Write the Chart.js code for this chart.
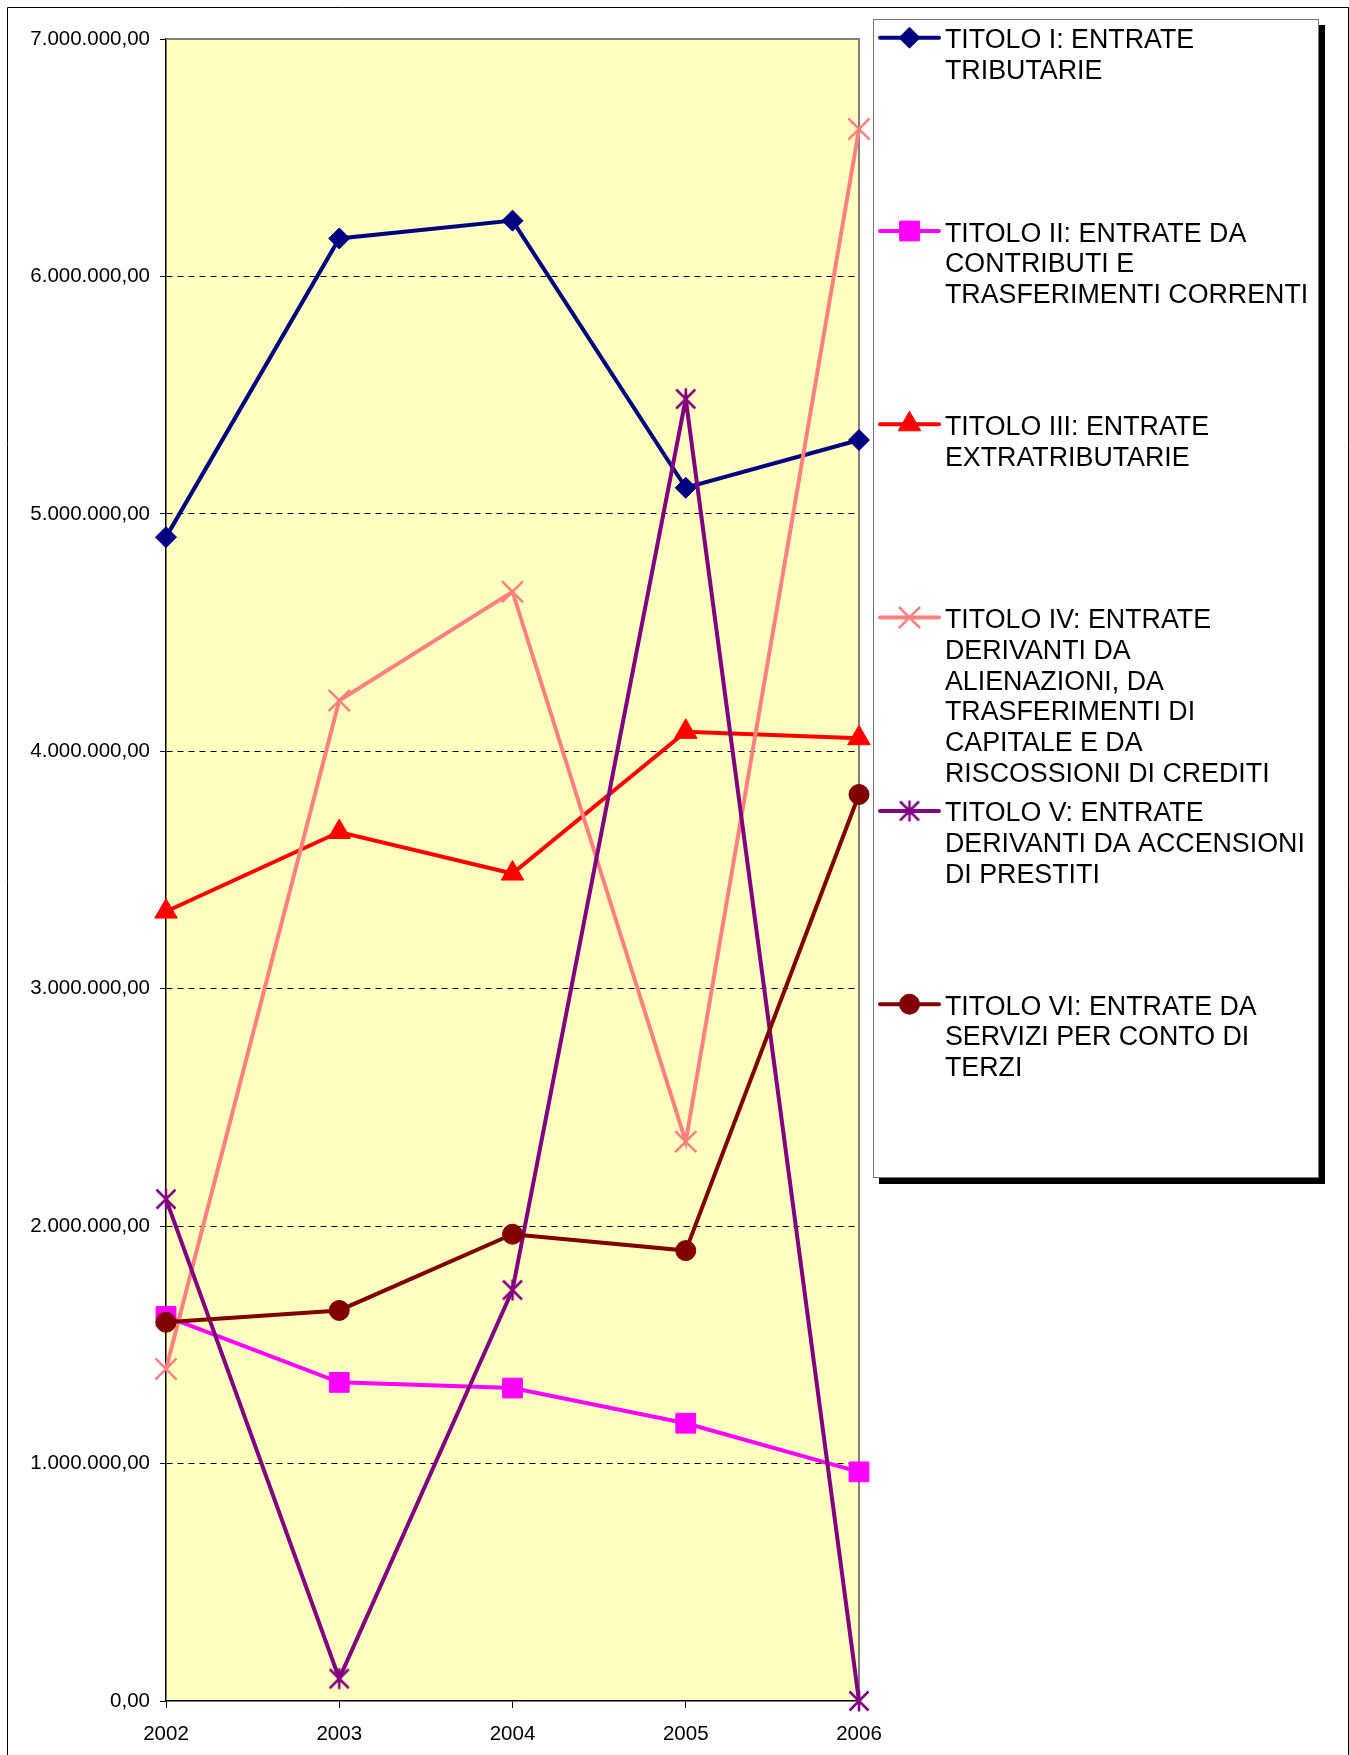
<!DOCTYPE html>
<html><head><meta charset="utf-8">
<script src="https://cdn.jsdelivr.net/npm/chart.js@4.4.0/dist/chart.umd.min.js"></script>
<style>html,body{margin:0;padding:0;background:#fff;overflow:hidden}canvas{display:block}</style>
</head><body>
<canvas id="c" width="1349" height="1755" style="width:1349px;height:1755px"></canvas>
<script>
const years = ['2002', '2003', '2004', '2005', '2006'];
const titolo1 = [4902000, 6160000, 6235000, 5110000, 5311000];
const titolo2 = [1620000, 1342000, 1318000, 1170000, 965000];
const titolo3 = [3325000, 3660000, 3485000, 4082000, 4055000];
const titolo4 = [1398000, 4214000, 4672000, 2356000, 6621000];
const titolo5 = [2114000, 94000, 1731000, 5484000, 0];
const titolo6 = [1595000, 1645000, 1966000, 1897000, 3818000];
const legendLines = [
  ['TITOLO I: ENTRATE', 'TRIBUTARIE'],
  ['TITOLO II: ENTRATE DA', 'CONTRIBUTI E', 'TRASFERIMENTI CORRENTI'],
  ['TITOLO III: ENTRATE', 'EXTRATRIBUTARIE'],
  ['TITOLO IV: ENTRATE', 'DERIVANTI DA', 'ALIENAZIONI, DA', 'TRASFERIMENTI DI', 'CAPITALE E DA', 'RISCOSSIONI DI CREDITI'],
  ['TITOLO V: ENTRATE', 'DERIVANTI DA ACCENSIONI', 'DI PRESTITI'],
  ['TITOLO VI: ENTRATE DA', 'SERVIZI PER CONTO DI', 'TERZI']
];
const yMin = 0, yMax = 7000000, yStep = 1000000;

const FONT = "'Liberation Sans', Arial, sans-serif";

function fmtIt(v) {
  const s = Math.round(v).toString().replace(/\B(?=(\d{3})+(?!\d))/g, '.');
  return s + ',00';
}

function makeStar(color) {
  const c = document.createElement('canvas');
  c.width = 24; c.height = 24;
  const g = c.getContext('2d');
  g.strokeStyle = color; g.lineWidth = 2.5;
  g.beginPath();
  g.moveTo(12, 1.5); g.lineTo(12, 22.5);
  g.moveTo(2.5, 2.5); g.lineTo(21.5, 21.5);
  g.moveTo(21.5, 2.5); g.lineTo(2.5, 21.5);
  g.stroke();
  return c;
}

const series = [
  { data: titolo1, color: '#000080', style: 'rectRot', r: 10.5, bw: 1 },
  { data: titolo2, color: '#FF00FF', style: 'rect', r: 14, bw: 1 },
  { data: titolo3, color: '#FF0000', style: 'triangle', r: 13, bw: 1 },
  { data: titolo4, color: '#FF8080', style: 'crossRot', r: 15, bw: 2.5 },
  { data: titolo5, color: '#800080', style: makeStar('#800080'), r: 11, bw: 1 },
  { data: titolo6, color: '#800000', style: 'circle', r: 10, bw: 1 }
];

const datasets = series.map((s, i) => ({
  label: legendLines[i].join(' '),
  data: s.data,
  borderColor: s.color,
  backgroundColor: s.color,
  borderWidth: 4,
  tension: 0,
  clip: false,
  pointStyle: s.style,
  pointRadius: s.r,
  pointHoverRadius: s.r,
  pointBorderWidth: s.bw,
  pointBackgroundColor: s.color,
  pointBorderColor: s.color,
  order: series.length - i
}));

const framePlugin = {
  id: 'frame',
  beforeDraw(chart) {
    const ctx = chart.ctx, a = chart.chartArea;
    ctx.save();
    ctx.fillStyle = '#fff';
    ctx.fillRect(0, 0, chart.width, chart.height);
    ctx.strokeStyle = '#000'; ctx.lineWidth = 1;
    ctx.beginPath();
    ctx.moveTo(7.5, chart.height + 2); ctx.lineTo(7.5, 7.5); ctx.lineTo(1348.5, 7.5); ctx.lineTo(1348.5, chart.height + 2);
    ctx.stroke();
    ctx.fillStyle = '#FFFFC0';
    ctx.fillRect(a.left, a.top, a.right - a.left, a.bottom - a.top);
    ctx.restore();
  },
  beforeDatasetsDraw(chart) {
    const ctx = chart.ctx, a = chart.chartArea;
    ctx.save();
    ctx.strokeStyle = '#808080'; ctx.lineWidth = 2;
    ctx.beginPath();
    ctx.moveTo(a.left, a.top); ctx.lineTo(a.right, a.top); ctx.lineTo(a.right, a.bottom);
    ctx.stroke();
    ctx.restore();
  },
  afterDraw(chart) {
    const ctx = chart.ctx;
    ctx.save();
    ctx.fillStyle = '#000';
    ctx.fillRect(879, 25, 446, 1159);
    ctx.fillStyle = '#fff';
    ctx.fillRect(873, 19, 446, 1159);
    ctx.strokeStyle = '#777'; ctx.lineWidth = 1;
    ctx.strokeRect(873.5, 19.5, 445, 1158);
    const helpers = Chart.helpers;
    chart.data.datasets.forEach((ds, i) => {
      const y = 37.7 + i * 193.3;
      ctx.strokeStyle = ds.borderColor; ctx.lineWidth = 4; ctx.lineCap = 'round';
      ctx.beginPath(); ctx.moveTo(880, y); ctx.lineTo(939, y); ctx.stroke();
      ctx.lineCap = 'butt';
      ctx.fillStyle = ds.pointBackgroundColor; ctx.strokeStyle = ds.pointBorderColor; ctx.lineWidth = ds.pointBorderWidth;
      helpers.drawPoint(ctx, { pointStyle: ds.pointStyle, radius: ds.pointRadius, borderWidth: ds.pointBorderWidth, rotation: 0 }, 909.5, y);
      ctx.fillStyle = '#000';
      ctx.font = '26.8px ' + FONT;
      ctx.textAlign = 'left'; ctx.textBaseline = 'alphabetic';
      legendLines[i].forEach((t, k) => ctx.fillText(t, 945, y + 10.5 + k * 30.7));
    });
    ctx.restore();
  }
};

new Chart(document.getElementById('c'), {
  type: 'line',
  data: { labels: years, datasets },
  options: {
    responsive: false,
    animation: false,
    events: [],
    layout: { padding: { top: 39, right: 490, bottom: 0, left: 0 } },
    plugins: { legend: { display: false }, tooltip: { enabled: false } },
    scales: {
      x: {
        offset: false,
        afterFit: s => { s.height = 54; },
        grid: { drawOnChartArea: false, drawTicks: true, tickLength: 7, tickColor: '#000', tickWidth: 1 },
        border: { display: true, color: '#000', width: 1.5 },
        ticks: { color: '#000', padding: 14, font: { family: FONT, size: 20.5 }, maxRotation: 0, autoSkip: false }
      },
      y: {
        min: yMin, max: yMax,
        afterFit: s => { s.width = 166; },
        grid: {
          drawTicks: true, tickLength: 6, tickColor: '#000', tickWidth: 1, tickBorderDash: [1, 0],
          color: ctx => (ctx.tick && (ctx.tick.value === yMin || ctx.tick.value === yMax)) ? 'rgba(0,0,0,0)' : '#000',
          lineWidth: 1
        },
        border: { display: true, color: '#000', width: 1.5, dash: [6, 5] },
        ticks: { stepSize: yStep, color: '#000', padding: 10, font: { family: FONT, size: 20.5 }, callback: v => fmtIt(v) }
      }
    }
  },
  plugins: [framePlugin]
});
</script>
</body></html>
